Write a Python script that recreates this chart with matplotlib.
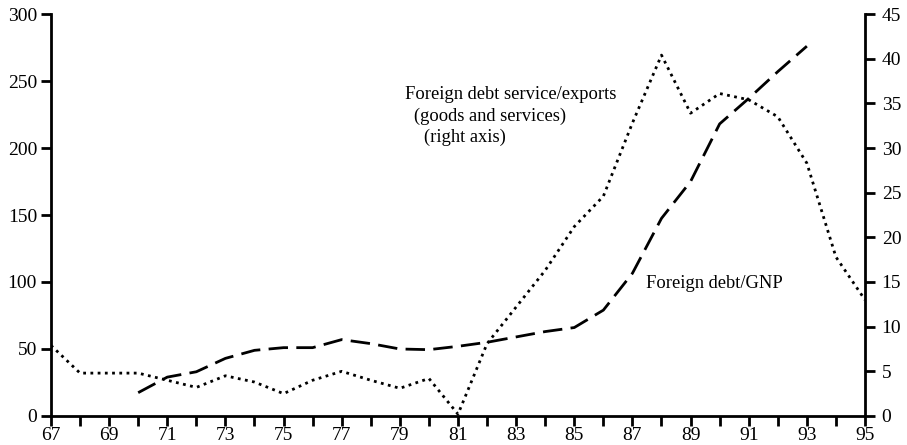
import matplotlib.pyplot as plt

plt.rcParams['font.family'] = ['Liberation Serif', 'DejaVu Serif']

years_gnp = [70, 71, 72, 73, 74, 75, 76, 77, 78, 79, 80, 81, 82, 83, 84, 85, 86,
             87, 88, 89, 90, 91, 92, 93]
debt_gnp = [17.4, 29, 33, 43, 49, 51, 51, 57, 54, 50, 49.5, 52, 55, 59, 63, 66, 79,
            106.5, 147.5, 175, 218, 237, 257, 276]

years_svc = list(range(67, 96))
debt_service = [7.9, 4.8, 4.8, 4.8, 4.0, 3.2, 4.5, 3.8, 2.5, 4.0, 5.0, 4.0, 3.1, 4.2,
                0.2, 8.1, 12.2, 16.3, 21.2, 24.6, 32.8, 40.4, 33.9, 36.1, 35.4, 33.5,
                28.3, 17.8, 13.0]

fig = plt.figure(figsize=(9.07, 4.45), dpi=100)
ax = fig.add_axes([0.0562, 0.0652, 0.8975, 0.9033])
ax2 = ax.twinx()

ax.plot(years_gnp, debt_gnp, color='black', lw=2, linestyle=(0, (7, 3)))
ax2.plot(years_svc, debt_service, color='black', lw=2, linestyle=(0, (1, 1.6)))

ax.set_xlim(67, 95)
ax.set_ylim(0, 300)
ax2.set_ylim(0, 45)
ax.set_xticks(range(67, 96))
ax.set_xticklabels([str(y) if y % 2 == 1 else '' for y in range(67, 96)])
ax.set_yticks(range(0, 301, 50))
ax2.set_yticks(range(0, 46, 5))

for a in (ax, ax2):
    a.spines['top'].set_visible(False)
    for s in a.spines.values():
        s.set_linewidth(2)
    a.tick_params(width=2, length=7, labelsize=14, direction='out')
ax.spines['right'].set_visible(False)
ax2.spines['left'].set_visible(False)
ax2.spines['bottom'].set_visible(False)
ax.tick_params(axis='x', pad=1)
ax.tick_params(axis='y', pad=3)
ax2.tick_params(axis='y', pad=5)

ax.text(79.18, 239.6, 'Foreign debt service/exports', fontsize=13.3, ha='left', va='center')
ax.text(79.49, 224, '(goods and services)', fontsize=13.3, ha='left', va='center')
ax.text(79.83, 208, '(right axis)', fontsize=13.3, ha='left', va='center')
ax.text(87.47, 99, 'Foreign debt/GNP', fontsize=13.3, ha='left', va='center')

fig.savefig('out.png', dpi=100)
